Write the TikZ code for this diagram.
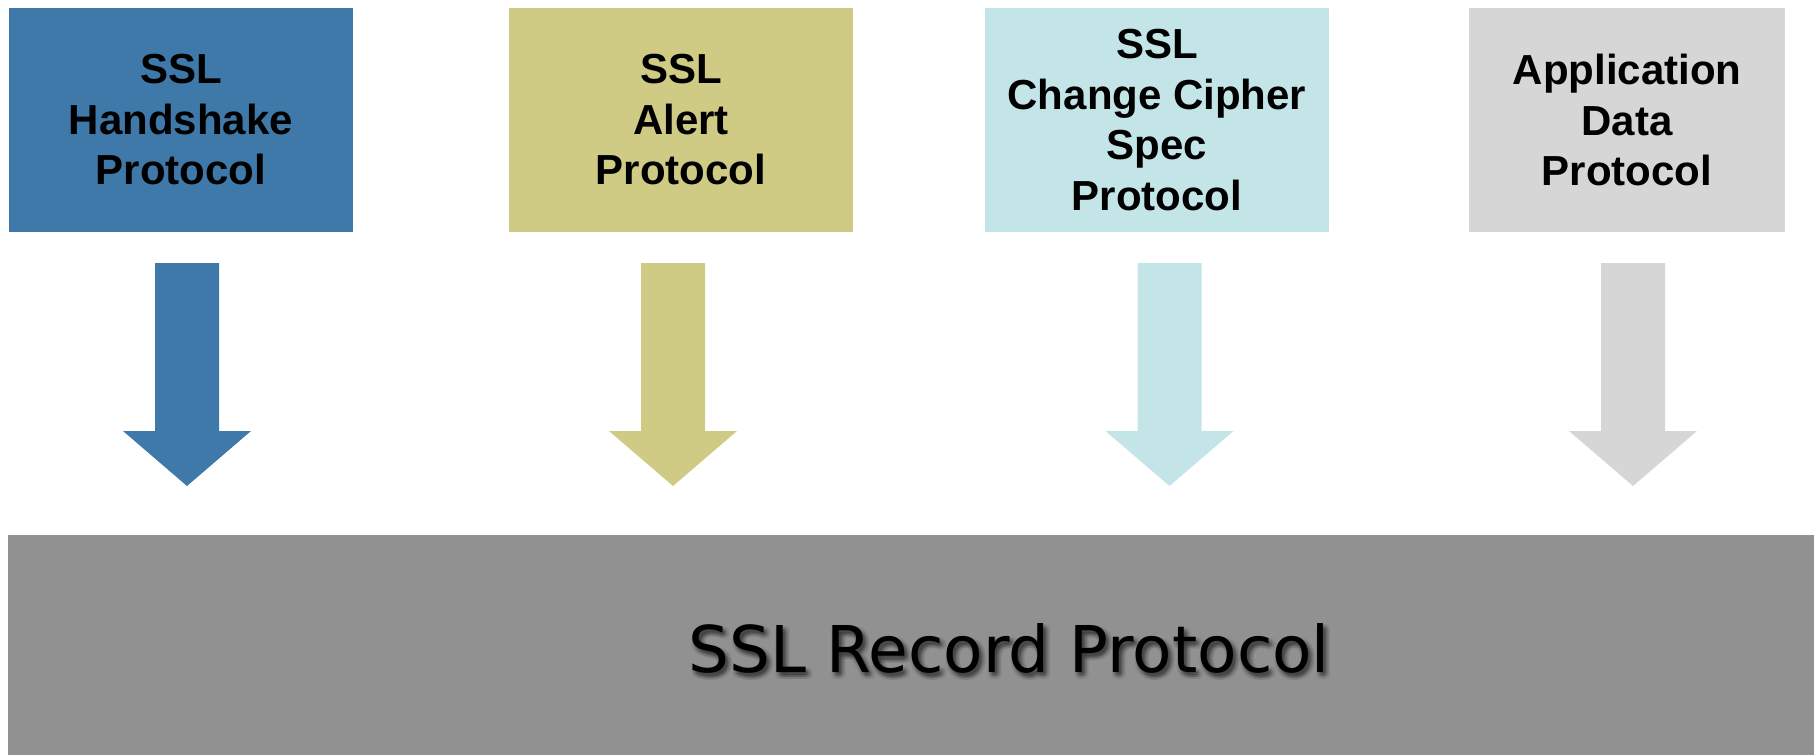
\documentclass[tikz,border=0pt]{standalone}
\usepackage{fontspec}
\setmainfont{Liberation Sans}
\newfontfamily\recfont{DejaVu Sans}
\definecolor{hsblue}{HTML}{3F79A9}
\definecolor{alertkhaki}{HTML}{CFCA84}
\definecolor{ccscyan}{HTML}{C4E5E8}
\definecolor{appgray}{HTML}{D6D6D6}
\definecolor{recgray}{HTML}{919191}

% block arrow pointing down, top-centre at #1
\newcommand\downblock[2]{%
  \fill[#2] (#1) ++(-32,0) -- ++(64,0) -- ++(0,168) -- ++(32,0)
    -- ++(-64,55) -- ++(-64,-55) -- ++(32,0) -- cycle;}

\begin{document}
\begin{tikzpicture}[x=1pt,y=-1pt,
  protobox/.style={rectangle, inner sep=0pt, minimum width=344pt,
    minimum height=224pt, align=center,
    font=\fontsize{42}{50.5}\selectfont\bfseries},
  recordbar/.style={rectangle, inner sep=0pt, fill=recgray,
    minimum width=1806pt, minimum height=220pt},
  recordtext/.style={inner sep=0pt, anchor=base west,
    font=\recfont\fontsize{64.5}{77}\selectfont}]
\useasboundingbox (0,0) rectangle (1820,755);

% upper protocol layer
\node[protobox, fill=hsblue] (hs) at (181,120) {SSL\\Handshake\\Protocol};
\node[protobox, fill=alertkhaki] (al) at (681,120) {SSL\\Alert\\Protocol};
\node[protobox, fill=ccscyan] (ccs) at (1157,120) {SSL\\Change Cipher\\Spec\\Protocol};
\node[protobox, fill=appgray, minimum width=316pt] (app) at (1627,120) {Application\\Data\\Protocol};

% record layer
\node[recordbar] (rec) at (911,645) {};

% arrows from each protocol down to the record layer
\coordinate (hsa) at (187,263);
\coordinate (ala) at (673,263);
\coordinate (ccsa) at (1169.5,263);
\coordinate (appa) at (1633,263);
\downblock{hsa}{hsblue}
\downblock{ala}{alertkhaki}
\downblock{ccsa}{ccscyan}
\downblock{appa}{appgray}

% soft drop shadow under the record label
\foreach \dx/\dy in {0/1,2/1,4/1,6/1,
                     -1/3,1/3,3/3,5/3,7/3,
                     -1/5,1/5,3/5,5/5,7/5,
                     0/7,2/7,4/7,6/7,
                     2/3,3/4,4/4,2/5,3/2}
  \node[recordtext, text=black, opacity=0.035] at (688+\dx,672+\dy) {SSL Record Protocol};
\node[recordtext, text=black] (rectext) at (688,672) {SSL Record Protocol};
\end{tikzpicture}
\end{document}
